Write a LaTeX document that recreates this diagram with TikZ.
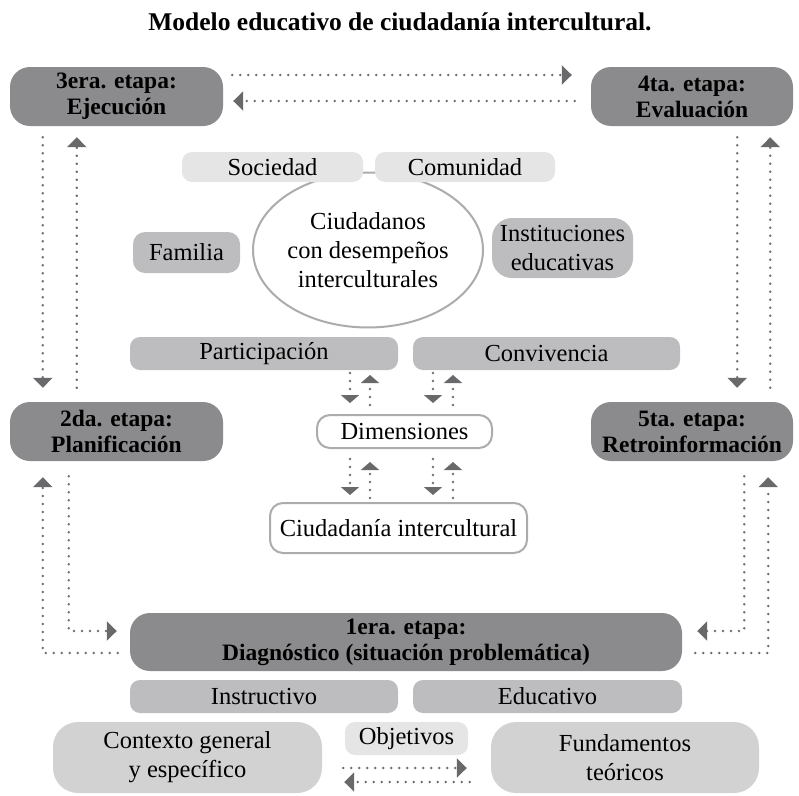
\documentclass[tikz,border=0pt]{standalone}
\usepackage{fontspec}
\setmainfont{Liberation Serif}
\usepackage{xcolor}
\usetikzlibrary{arrows.meta}
\usetikzlibrary{shapes.geometric}
\usetikzlibrary{calc}
\definecolor{etapagris}{RGB}{139,139,141}
\definecolor{medgris}{RGB}{189,189,191}
\definecolor{clarogris}{RGB}{229,229,230}
\definecolor{basegris}{RGB}{210,210,211}
\definecolor{bordegris}{RGB}{172,172,174}
\definecolor{puntogris}{RGB}{112,112,114}
\definecolor{puntagris}{RGB}{105,105,107}

\begin{document}
\begin{tikzpicture}[x=1pt,y=-1pt]
\tikzset{>={Triangle[width=19pt,length=10pt,color=puntagris]}}
\tikzset{chica/.style={-{Triangle[width=18pt,length=8pt,color=puntagris]}}}
\tikzstyle{etapa}=[rectangle,rounded corners=20,fill=etapagris,align=center,inner sep=0pt,font=\fontsize{23.5}{26}\selectfont\bfseries]
\tikzstyle{caja}=[rectangle,rounded corners=10,fill=medgris,align=center,inner sep=0pt,font=\fontsize{24.5}{29}\selectfont]
\tikzstyle{clara}=[caja,fill=clarogris]
\tikzstyle{base}=[caja,rounded corners=25,fill=basegris]
\tikzstyle{blanca}=[caja,rounded corners=13,fill=white,draw=bordegris,line width=2pt]
\tikzstyle{flecha}=[draw=puntogris,line width=2.8pt,line cap=round,dash pattern=on 0pt off 8pt]

\useasboundingbox (0,0) rectangle (799,795);

\node[font=\fontsize{25.5}{29}\selectfont\bfseries] (titulo) at (400,22) {Modelo educativo de ciudadanía intercultural.};

% etapas
\node[etapa,minimum width=213,minimum height=59](e3) at (116.5,96.5){3era. etapa:\\Ejecución};
\node[etapa,minimum width=202,minimum height=59](e4) at (692,96.5){4ta. etapa:\\Evaluación};
\node[etapa,minimum width=213,minimum height=59](e2) at (116.5,431.5){2da. etapa:\\Planificación};
\node[etapa,minimum width=202,minimum height=59](e5) at (692,431.5){5ta. etapa:\\Retroinformación};
\node[etapa,minimum width=552,minimum height=58](e1) at (406,642){1era. etapa:\\Diagnóstico (situación problemática)};

% centro
\node[ellipse,draw=bordegris,line width=2pt,fill=white,minimum width=230,minimum height=155,inner sep=0pt,align=center,font=\fontsize{24.5}{29}\selectfont](ciud) at (368,250){Ciudadanos\\con desempeños\\interculturales};
\node[clara,minimum width=181,minimum height=30](soc) at (272.5,167){Sociedad};
\node[clara,minimum width=180,minimum height=30](com) at (465,167){Comunidad};
\node[caja,rounded corners=12,minimum width=107,minimum height=41](fam) at (186.5,252.5){Familia};
\node[caja,rounded corners=20,minimum width=141,minimum height=60](inst) at (562.5,248){Instituciones\\educativas};
\node[caja,minimum width=268,minimum height=33](part) at (264,353.5){Participación};
\node[caja,minimum width=267,minimum height=33](conv) at (546.5,353.5){Convivencia};
\node[blanca,minimum width=175,minimum height=33](dim) at (404.5,431.5){Dimensiones};
\node[blanca,minimum width=257,minimum height=50](ci) at (398.5,528){Ciudadanía intercultural};

% abajo
\node[caja,minimum width=268,minimum height=33](instr) at (264,696.5){Instructivo};
\node[caja,minimum width=269,minimum height=33](educ) at (547.5,696.5){Educativo};
\node[base,minimum width=269,minimum height=71](ctx) at (187.5,757.5){Contexto general\\y específico};
\node[base,minimum width=268,minimum height=71](fund) at (625,757.5){Fundamentos\\teóricos};
\node[clara,minimum width=123,minimum height=33](obj) at (406.5,738.5){Objetivos};

% flechas entre etapas
\draw[flecha,->] ($(e3.east)+(9,-21.5)$) -- ($(e4.west)+(-19,-21.5)$);
\draw[flecha,->] ($(e4.west)+(-16,4.5)$) -- ($(e3.east)+(10,4.5)$);
\draw[flecha,->] ($(e3.south west)+(33,11)$) -- ($(e2.north west)+(33,-14)$);
\draw[flecha,->] ($(e2.north west)+(67,-14)$) -- ($(e3.south west)+(67,11)$);
\draw[flecha,->] ($(e1.west)+(-12,11)$) -| ($(e2.south west)+(33,16)$);
\draw[flecha,->] ($(e2.south west)+(59,15)$) |- ($(e1.west)+(-13,-11)$);
\draw[flecha,->] ($(e4.south east)+(-56,11)$) -- ($(e5.north east)+(-56,-14)$);
\draw[flecha,->] ($(e5.north east)+(-23,-14)$) -- ($(e4.south east)+(-23,11)$);
\draw[flecha,->] ($(e1.east)+(13,11)$) -| ($(e5.south east)+(-25,16)$);
\draw[flecha,->] ($(e5.south east)+(-49,15)$) |- ($(e1.east)+(15,-11)$);

% dimensiones
\foreach \dx in {-54.5,28.5}{
  \draw[flecha,chica] ($(dim.north)+(\dx,-41)$) -- ($(dim.north)+(\dx,-11)$);
  \draw[flecha,chica] ($(dim.north)+(\dx+20,-9)$) -- ($(dim.north)+(\dx+20,-39)$);
  \draw[flecha,chica] ($(dim.south)+(\dx,10)$) -- ($(dim.south)+(\dx,46)$);
  \draw[flecha,chica] ($(dim.south)+(\dx+20,49)$) -- ($(dim.south)+(\dx+20,13)$);
}

% contexto y fundamentos
\draw[flecha,->] ($(ctx.east)+(21,10.5)$) -- ($(fund.west)+(-24,10.5)$);
\draw[flecha,->] ($(fund.west)+(-21,24.5)$) -- ($(ctx.east)+(22,24.5)$);
\end{tikzpicture}
\end{document}
